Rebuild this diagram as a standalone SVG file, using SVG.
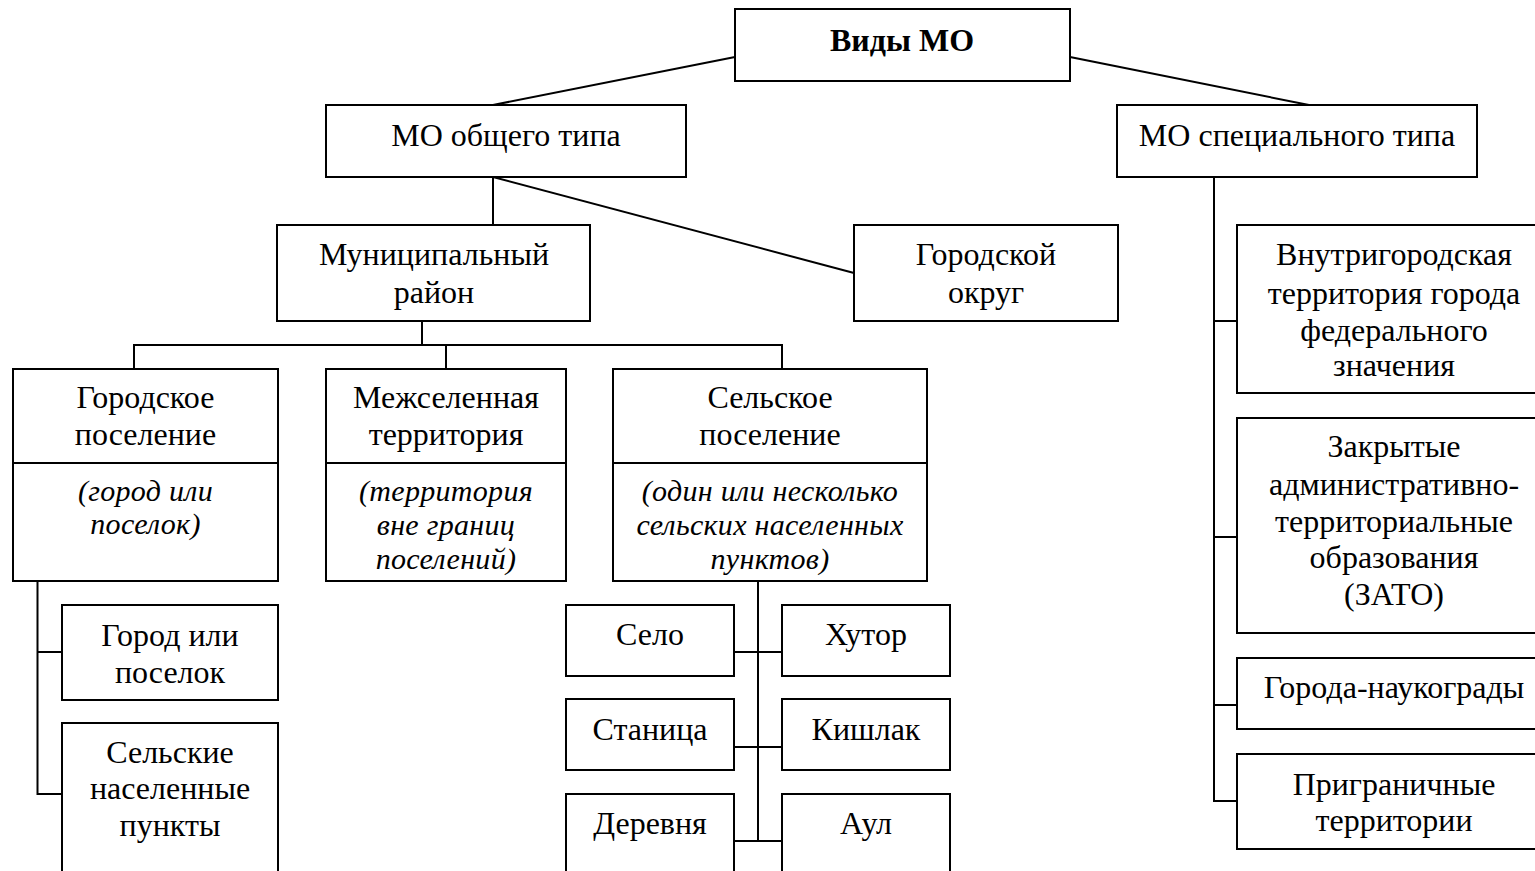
<svg xmlns="http://www.w3.org/2000/svg" width="1535" height="871" viewBox="0 0 1535 871">
<style>
rect{fill:#fff;stroke:#000;stroke-width:2}
line,path{stroke:#000;stroke-width:2;fill:none}
text{font-family:"Liberation Serif","Times New Roman",serif;font-size:32px;fill:#000;text-anchor:middle}
.b{font-weight:bold}
.i{font-style:italic;font-size:30px;letter-spacing:0.3px}
</style>
<rect x="0" y="0" width="1535" height="871" style="stroke:none"/>
<g id="connectors">
<line x1="735" y1="57" x2="493" y2="105"/>
<line x1="1070" y1="57" x2="1309" y2="105"/>
<line x1="493" y1="177" x2="493" y2="225"/>
<line x1="493" y1="177" x2="854" y2="273"/>
<line x1="422" y1="321" x2="422" y2="345"/>
<path d="M134 369 V345 H782 V369"/>
<line x1="446" y1="345" x2="446" y2="369"/>
<path d="M37.5 581 V794 H62 M37.5 652 H62"/>
<path d="M758 581 V841 M734 652 H782 M734 747 H782 M734 841 H782"/>
<path d="M1214 177 V801 H1237 M1214 321 H1237 M1214 537 H1237 M1214 705 H1237"/>
</g>
<g id="n-vidy"><rect x="735" y="9" width="335" height="72"/><text class="b" x="902" y="51">Виды МО</text></g>
<g id="n-obsh"><rect x="326" y="105" width="360" height="72"/><text x="506" y="146">МО общего типа</text></g>
<g id="n-spec"><rect x="1117" y="105" width="360" height="72"/><text x="1297" y="146">МО специального типа</text></g>
<g id="n-mun"><rect x="277" y="225" width="313" height="96"/><text x="434" y="265">Муниципальный</text><text x="434" y="303">район</text></g>
<g id="n-gokr"><rect x="854" y="225" width="264" height="96"/><text x="986" y="265">Городской</text><text x="986" y="303">округ</text></g>
<g id="n-gpos"><rect x="13" y="369" width="265" height="212"/><line x1="13" y1="463" x2="278" y2="463"/><text x="145.5" y="408">Городское</text><text x="145.5" y="445">поселение</text><text class="i" x="145.5" y="501">(город или</text><text class="i" x="145.5" y="534">поселок)</text></g>
<g id="n-mezh"><rect x="326" y="369" width="240" height="212"/><line x1="326" y1="463" x2="566" y2="463"/><text x="446" y="408">Межселенная</text><text x="446" y="445">территория</text><text class="i" x="446" y="501">(территория</text><text class="i" x="446" y="535">вне границ</text><text class="i" x="446" y="569">поселений)</text></g>
<g id="n-spos"><rect x="613" y="369" width="314" height="212"/><line x1="613" y1="463" x2="927" y2="463"/><text x="770" y="408">Сельское</text><text x="770" y="445">поселение</text><text class="i" x="770" y="501">(один или несколько</text><text class="i" x="770" y="535">сельских населенных</text><text class="i" x="770" y="569">пунктов)</text></g>
<g id="n-gorod"><rect x="62" y="605" width="216" height="95"/><text x="170" y="646">Город или</text><text x="170" y="683">поселок</text></g>
<g id="n-snp"><rect x="62" y="723" width="216" height="170"/><text x="170" y="763">Сельские</text><text x="170" y="799">населенные</text><text x="170" y="836">пункты</text></g>
<g id="n-selo"><rect x="566" y="605" width="168" height="71"/><text x="650" y="645">Село</text></g>
<g id="n-hutor"><rect x="782" y="605" width="168" height="71"/><text x="866" y="645">Хутор</text></g>
<g id="n-stan"><rect x="566" y="699" width="168" height="71"/><text x="650" y="740">Станица</text></g>
<g id="n-kish"><rect x="782" y="699" width="168" height="71"/><text x="866" y="740">Кишлак</text></g>
<g id="n-der"><rect x="566" y="794" width="168" height="100"/><text x="650" y="834">Деревня</text></g>
<g id="n-aul"><rect x="782" y="794" width="168" height="100"/><text x="866" y="834">Аул</text></g>
<g id="n-vnutr"><rect x="1237" y="225" width="314" height="168"/><text x="1394" y="265">Внутригородская</text><text x="1394" y="304">территория города</text><text x="1394" y="341">федерального</text><text x="1394" y="376">значения</text></g>
<g id="n-zato"><rect x="1237" y="418" width="314" height="215"/><text x="1394" y="457">Закрытые</text><text x="1394" y="495">административно-</text><text x="1394" y="532">территориальные</text><text x="1394" y="568">образования</text><text x="1394" y="605">(ЗАТО)</text></g>
<g id="n-nauk"><rect x="1237" y="658" width="314" height="71"/><text x="1394" y="698">Города-наукограды</text></g>
<g id="n-prigr"><rect x="1237" y="754" width="314" height="95"/><text x="1394" y="795">Приграничные</text><text x="1394" y="831">территории</text></g>
</svg>
